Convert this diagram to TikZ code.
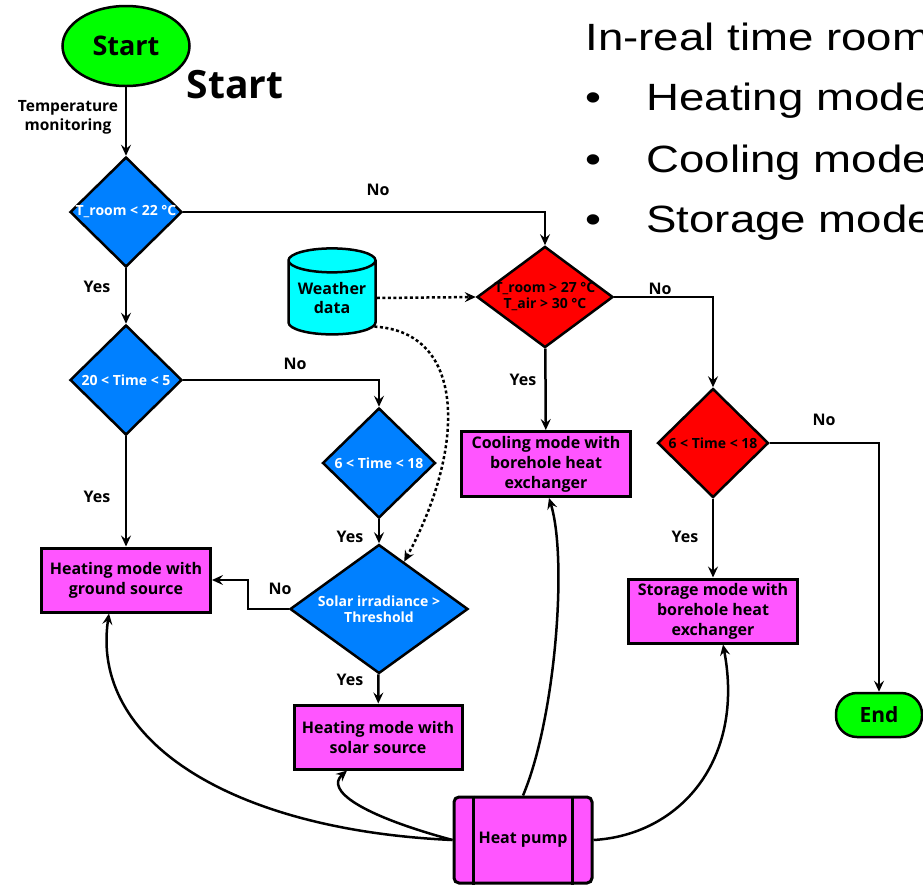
\documentclass[tikz,border=0pt]{standalone}
\usepackage{fontspec}
\setmainfont{Open Sans}
\newfontfamily\slidefont[FakeStretch=1.2]{Liberation Sans}
\usetikzlibrary{shapes.geometric, arrows.meta}
\definecolor{termgreen}{RGB}{0,255,0}
\definecolor{askblue}{RGB}{0,128,255}
\definecolor{askred}{RGB}{255,0,0}
\definecolor{modepink}{RGB}{255,85,255}
\definecolor{datacyan}{RGB}{0,255,255}
\begin{document}
\begin{tikzpicture}[
                x=1pt, y=-1pt,
                terminal/.style={draw, line width=2.5pt, fill=termgreen, font=\fontsize{27}{30}\selectfont\bfseries},
                decision/.style={diamond, draw, line width=2.5pt, fill=askblue, text=white, inner sep=-3pt, align=center, font=\fontsize{14}{16}\selectfont\bfseries},
                reddecision/.style={decision, fill=askred, text=black},
                modebox/.style={rectangle, draw, line width=3pt, fill=modepink, align=center, minimum width=169pt, minimum height=64pt, font=\fontsize{16}{20}\selectfont\bfseries},
                lbl/.style={font=\fontsize{16}{19}\selectfont\bfseries},
                flow/.style={line width=2.5pt, -{Stealth[length=11pt, width=10pt, inset=4pt]}},
                feed/.style={flow, dash pattern=on 3pt off 2.5pt},
                bullet/.style={anchor=base west, font=\slidefont\fontsize{38}{40}\selectfont}
                ]
                \useasboundingbox (0,0) rectangle (923,887);
                \clip (0,0) rectangle (923,887);

                % start, checks and modes
                \node[terminal, ellipse, minimum width=127pt, minimum height=80pt] (start) at (126,46) {Start};
                \node[font=\fontsize{39}{42}\selectfont\bfseries] (bigstart) at (235,85) {Start};
                \node[align=center, font=\fontsize{15.5}{19}\selectfont\bfseries] (tempmon) at (68,117) {Temperature\\monitoring};
                \node[decision, minimum width=112pt, minimum height=110pt] (d1) at (126,212) {T\_room < 22 °C};
                \node[decision, minimum width=112pt, minimum height=110pt] (d2) at (126,380) {20 < Time < 5};
                \node[decision, minimum width=113pt, minimum height=110pt] (d3) at (379,463) {6 < Time < 18};
                \node[decision, minimum width=178pt, minimum height=102pt, inner sep=-5pt] (dsolar) at (379,609) {Solar irradiance >\\Threshold};
                \node[reddecision, minimum width=136pt, minimum height=98pt, inner sep=-7pt] (dcool) at (545,297) {T\_room > 27 °C\\T\_air > 30 °C};
                \node[reddecision, minimum width=111pt, minimum height=109pt] (dstore) at (713,443) {6 < Time < 18};
                \node[cylinder, shape border rotate=90, aspect=0.35, draw, line width=2.5pt, fill=datacyan, align=center, inner sep=0pt,
                      minimum width=87pt, minimum height=86pt, font=\fontsize{16}{19}\selectfont\bfseries] (weather) at (332,298) {Weather\\data};
                \node[modebox] (heatground) at (126,580) {Heating mode with\\ground source};
                \node[modebox, minimum width=168pt] (heatsolar) at (378,737) {Heating mode with\\solar source};
                \node[modebox, minimum height=65pt] (coolbox) at (546,464) {Cooling mode with\\borehole heat\\exchanger};
                \node[modebox] (storebox) at (713,611) {Storage mode with\\borehole heat\\exchanger};
                \node[modebox, minimum width=138pt, minimum height=86pt, rounded corners=5pt] (hp) at (523,840) {Heat pump};
                \draw[line width=2.5pt] ([xshift=21pt]hp.north west) -- ([xshift=21pt]hp.south west);
                \draw[line width=2.5pt] ([xshift=-21pt]hp.north east) -- ([xshift=-21pt]hp.south east);
                \node[terminal, rounded corners=21pt, minimum width=86pt, minimum height=44pt, font=\fontsize{21}{24}\selectfont\bfseries] (stop) at (879,715) {End};

                % decisions
                \draw[flow] (start) -- (d1);
                \draw[flow] (d1.east) -| (dcool.north);
                \draw[flow] (d1) -- (d2);
                \draw[flow] (d2.east) -| (d3.north);
                \draw[flow] (d2) -- (heatground);
                \draw[flow] (d3) -- (dsolar);
                \draw[flow] (dsolar.west) -- (248,609) |- (heatground.east);
                \draw[flow] (dsolar) -- (heatsolar);
                \draw[flow] (dcool.east) -| (dstore.north);
                \draw[flow] (dcool) -- (coolbox);
                \draw[flow] (dstore.east) -| (stop.north);
                \draw[flow] (dstore) -- (storebox);
                \draw[feed] (weather.east) -- (dcool.west);
                \draw[feed] (weather.-34) .. controls (468,332) and (465,450) .. (dsolar.62);

                % heat pump feeds
                \draw[flow] (hp.west) .. controls (230,830) and (90,740) .. ([xshift=-17pt]heatground.south);
                \draw[flow] (hp.west) .. controls (360,815) and (325,790) .. ([xshift=-31pt]heatsolar.south);
                \draw[flow] (hp.north) .. controls (555,720) and (568,560) .. ([xshift=3pt]coolbox.south);
                \draw[flow] (hp.east) .. controls (680,835) and (745,760) .. ([xshift=10pt]storebox.south);

                \node[lbl] (no1) at (378,190) {No};
                \node[lbl] (yes1) at (97,287) {Yes};
                \node[lbl] (no2) at (295,364) {No};
                \node[lbl] (yes2) at (97,497) {Yes};
                \node[lbl] (yes3) at (350,537) {Yes};
                \node[lbl] (no3) at (280,589) {No};
                \node[lbl] (yes4) at (350,680) {Yes};
                \node[lbl] (no4) at (660,289) {No};
                \node[lbl] (yes5) at (523,380) {Yes};
                \node[lbl] (no5) at (824,420) {No};
                \node[lbl] (yes6) at (685,537) {Yes};

                % mode list
                \node[bullet] (modes) at (582,50) {In-real time room};
                \node[bullet] (dot1) at (582,110) {•};
                \node[bullet] (dot2) at (582,172) {•};
                \node[bullet] (dot3) at (582,232) {•};
                \node[bullet] (heatmode) at (643,110) {Heating mode};
                \node[bullet] (coolmode) at (643,172) {Cooling mode};
                \node[bullet] (storemode) at (643,232) {Storage mode};
            \end{tikzpicture}
\end{document}
